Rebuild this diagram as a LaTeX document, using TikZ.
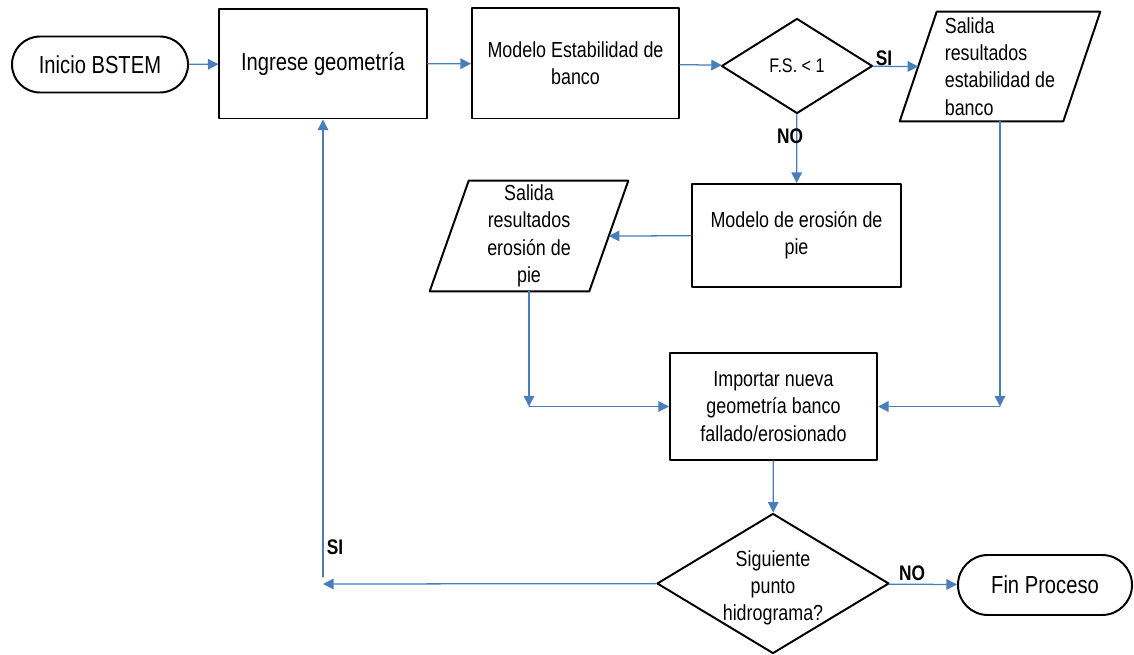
\documentclass[tikz,border=0pt]{standalone}
\usepackage{fontspec}
\setmainfont{Liberation Sans}[FakeStretch=0.82]
\usetikzlibrary{arrows.meta,shapes.geometric}
\definecolor{azul}{RGB}{74,126,187}

\begin{document}
\begin{tikzpicture}[line cap=round,line join=round,x=0.025cm,y=-0.025cm,
	>={Triangle[length=7.5pt,width=7.5pt]},
	texto/.style={align=center,font=\fontsize{15.5}{19.5}\selectfont},
	caja/.style={draw,line width=1.4pt,fill=white,inner sep=0pt,texto},
	terminal/.style={caja,font=\fontsize{17.5}{21}\selectfont},
	decision/.style={caja,diamond},
	salida/.style={inner sep=0pt,texto},
	borde/.style={line width=1.4pt},
	flecha/.style={draw=azul,line width=0.9pt,->},
	rotulo/.style={inner sep=0pt,font=\fontsize{15}{17}\selectfont\bfseries}]
		\useasboundingbox (0,0) rectangle (1134,655);
		% fila superior
		\node[terminal,rounded corners=0.7cm,minimum width=4.4cm,minimum height=1.4cm] (inicio) at (100,64.5) {Inicio BSTEM};
		\node[caja,minimum width=5.175cm,minimum height=2.725cm,font=\fontsize{17.5}{21}\selectfont] (geom) at (323,64) {Ingrese geometría};
		\node[caja,minimum width=5.175cm,minimum height=2.75cm] (estab) at (575.5,63.5) {Modelo Estabilidad de\\banco};
		\node[decision,minimum width=3.775cm,minimum height=2.375cm,label={[font=\fontsize{14}{16}\selectfont]center:F.S. < 1}] (fs) at (797,66) {};
		\node[salida,align=left,minimum width=4.075cm,minimum height=2.725cm] (salest) at (1000,66.5) {Salida\\resultados\\estabilidad de\\banco};
		\draw[borde] ([xshift=-0.4625cm]salest.south west) -- ([xshift=0.4625cm]salest.north west)
			-- ([xshift=0.4625cm]salest.north east) -- ([xshift=-0.4625cm]salest.south east) -- cycle;
		% fila media
		\node[caja,minimum width=5.225cm,minimum height=2.575cm] (erosion) at (796.5,235.5) {Modelo de erosión de\\pie};
		\node[salida,minimum width=3.975cm,minimum height=2.75cm] (salero) at (529,236) {Salida\\resultados\\erosión de\\pie};
		\draw[borde] ([xshift=-0.4875cm]salero.south west) -- ([xshift=0.4875cm]salero.north west)
			-- ([xshift=0.4875cm]salero.north east) -- ([xshift=-0.4875cm]salero.south east) -- cycle;
		\node[caja,minimum width=5.175cm,minimum height=2.675cm] (importar) at (773.5,406.5) {Importar nueva\\geometría banco\\fallado/erosionado};
		% fila inferior
		\node[decision,minimum width=5.8cm,minimum height=3.5cm,label={[texto,yshift=-0.11cm]center:Siguiente\\punto\\hidrograma?}] (siguiente) at (773,583.5) {};
		\node[terminal,rounded corners=0.75cm,minimum width=4.35cm,minimum height=1.5cm] (fin) at (1045,585) {Fin Proceso};
		\coordinate (bajaero) at (529,406.5);
		\coordinate (bajaest) at (1000,406.5);
		\coordinate (vuelta) at (323,584);
		\coordinate (sube) at (323,577);
		\draw[flecha] (inicio) -- (geom);
		\draw[flecha] (geom) -- (estab);
		\draw[flecha] (estab) -- (fs);
		\draw[flecha] (fs) -- (salest.west);
		\draw[flecha] (fs) -- (erosion);
		\draw[flecha] (erosion) -- (salero.east);
		\draw[flecha] (salero.south) -- (bajaero);
		\draw[flecha] (bajaero) -- (importar);
		\draw[flecha] (salest.south) -- (bajaest);
		\draw[flecha] (bajaest) -- (importar);
		\draw[flecha] (importar) -- (siguiente);
		\draw[flecha] (siguiente) -- (fin);
		\draw[flecha] (siguiente) -- (vuelta);
		\draw[flecha] (sube) -- (geom);
		\node[rotulo] (si1) at (884,58) {SI};
		\node[rotulo] (no1) at (790,136) {NO};
		\node[rotulo] (no2) at (912,573) {NO};
		\node[rotulo] (si2) at (335,547) {SI};
	\end{tikzpicture}
\end{document}
